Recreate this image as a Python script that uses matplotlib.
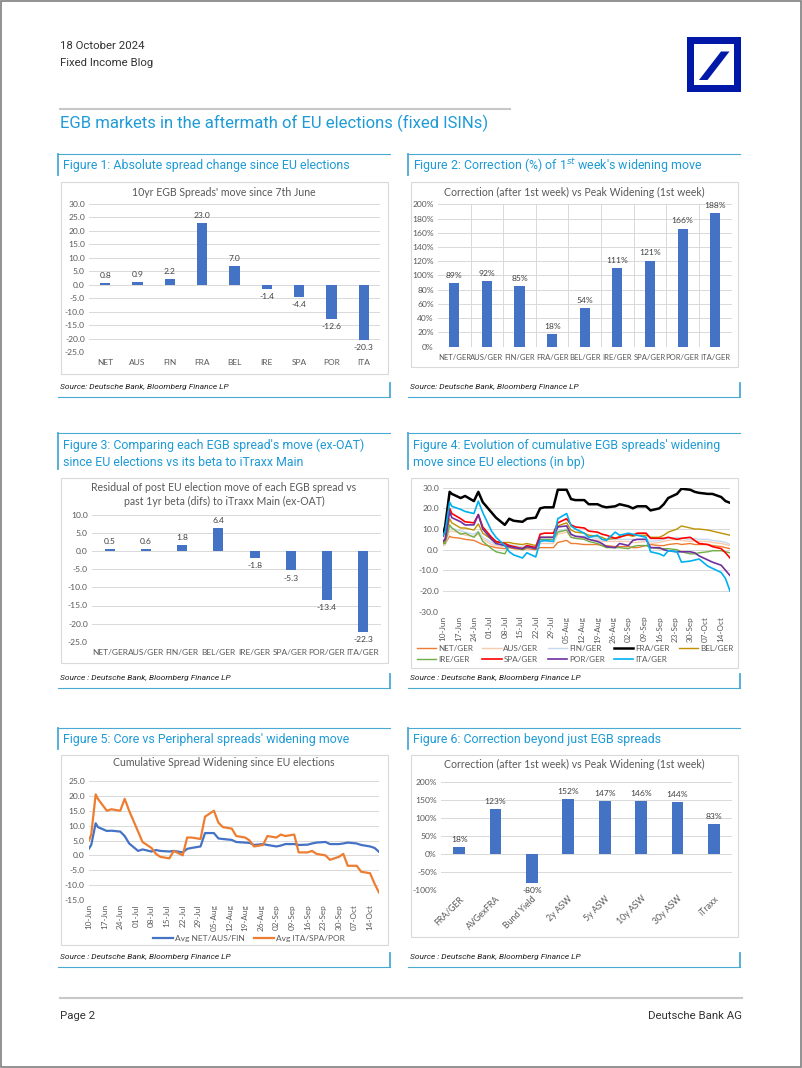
import numpy as np
import pandas as pd
import matplotlib
matplotlib.use('Agg')
import matplotlib.pyplot as plt
from matplotlib.lines import Line2D
from matplotlib.patches import Rectangle, Polygon
from matplotlib.ticker import FuncFormatter

# ---- data ----
fig1_cats = ['NET', 'AUS', 'FIN', 'FRA', 'BEL', 'IRE', 'SPA', 'POR', 'ITA']
fig1_vals = [0.8, 0.9, 2.2, 23.0, 7.0, -1.4, -4.4, -12.6, -20.3]

fig2_cats = ['NET/GER', 'AUS/GER', 'FIN/GER', 'FRA/GER', 'BEL/GER', 'IRE/GER', 'SPA/GER', 'POR/GER', 'ITA/GER']
fig2_vals = [89, 92, 85, 18, 54, 111, 121, 166, 188]

fig3_cats = ['NET/GER', 'AUS/GER', 'FIN/GER', 'BEL/GER', 'IRE/GER', 'SPA/GER', 'POR/GER', 'ITA/GER']
fig3_vals = [0.5, 0.6, 1.8, 6.4, -1.8, -5.3, -13.4, -22.3]

fig6_cats = ['FRA/GER', 'AVGexFRA', 'Bund Yield', '2y ASW', '5y ASW', '10y ASW', '30y ASW', 'iTraxx']
fig6_vals = [18, 123, -80, 152, 147, 146, 144, 83]

bdays = pd.bdate_range('2024-06-10', '2024-10-18')
obs_idx = [0, 1, 3] + list(range(4, 95, 2))
dates = bdays[obs_idx]

net_ger = [2, 3, 6.5, 6, 5.5, 5, 4.5, 3.5, 2.5, 1.5, 1, 0.5, 1, 0.5, 0, 0.5, 0, 1, 1, 1, 3.5, 4.5, 3,
           3, 2.5, 2.5, 2.5, 2, 2, 1.5, 1.5, 1.5, 1, 1, 2, 2.5, 2, 2, 2.5, 3, 2.5, 3, 2.5, 2.5, 2.5, 2, 1.5, 1, 0.5]
aus_ger = [2, 2.5, 9, 9, 8, 7, 6.5, 7.5, 5, 2.5, 2, 1.5, 2, 1.5, 1, 1.5, 1, 3, 3, 3, 7.5, 8.5, 6,
           5.5, 5.5, 5, 4.5, 4, 4, 4, 4, 4, 3.5, 3.5, 4, 3, 3.5, 4, 4.5, 5, 4.5, 4, 4.5, 4, 4, 3.5, 3, 2.5, 2]
fin_ger = [2.5, 3, 11, 10.5, 9, 8.5, 7.5, 9, 6, 3.5, 2.5, 2, 2.5, 2, 1.5, 2, 1.5, 4, 4, 4, 9, 10, 7,
           6.5, 6.5, 6, 5.5, 5, 5, 5, 5, 5, 5, 5, 5, 4, 4.5, 5, 5.5, 6, 5.5, 5, 5.5, 5, 5, 4.5, 4, 3.5, 2.5]
fra_ger = [7, 11.5, 28, 27, 25, 26, 23.5, 28, 23, 18, 15.5, 12, 15, 14, 13.5, 15, 15.5, 20, 20.5, 20.5, 29, 29, 24.5,
           24, 24, 22, 22, 21, 20.5, 21, 22, 21, 20, 21, 21, 19, 20, 22, 25, 27, 29.5, 29, 28, 27.5, 27, 27, 25.5, 23.5, 22.7]
bel_ger = [3, 4, 15, 13, 10.5, 10.5, 9.5, 12.5, 8, 5, 3.5, 3.5, 3.5, 3, 2.5, 3, 2, 6, 6, 6, 11.5, 13, 9.5,
           8.5, 8, 7, 6.5, 6, 5, 5.5, 6.5, 7, 6.5, 7, 7, 6, 6, 7, 8.5, 10, 11.5, 10.5, 10, 10, 9.5, 9, 8, 7.5, 7]
ire_ger = [3, 3, 12, 10.5, 7.5, 8, 6, 8.5, 4, 0.5, -1, -2, 2, 1, 0, 1, 1, 5, 5, 5, 8.5, 9.5, 6,
           5.5, 5, 4, 3, 2, 1, 1, 1, 0.5, 1.5, 2, 2, 1, 0.5, 0.5, 0.5, 0, -1, -2, -2, -1.5, -1, -0.5, -0.5, -1, -1.5]
spa_ger = [4, 5, 20, 17.5, 15, 13.5, 13, 17, 11, 6, 4, 3, 2, 1.5, 0.5, 2, 1, 7.5, 8, 8, 13, 15, 12,
           11, 10.5, 9, 8.5, 7.5, 7, 5.5, 6, 7.5, 7, 8, 8, 5.5, 5.5, 5.5, 6, 5, 5.5, 6, 4.5, 3, 2.5, 1.5, 0.5, -1.5, -4]
por_ger = [4, 5, 18.5, 15.5, 13.5, 12, 12, 17, 10, 5, 3, 2, 1.5, 1, 0.5, 1.5, 0.5, 6, 6, 6, 11, 11.5, 7.5,
           6.5, 6, 5, 4, 3, 1.5, 1, 3, 2, 4.5, 5, 5, 1, 1, 0, -0.5, -1, -1, -1, -1.5, -3, -5, -6, -7.5, -10, -12.5]
ita_ger = [7, 9, 23, 21, 19.5, 18.5, 17.5, 23.5, 18, 9, 6, 2, -1, -2.5, -4, -1.5, -3.5, 4, 4.5, 4, 15, 17.5, 11.5,
           10, 8, 6, 7, 5, 4.5, 8.5, 7, 8, 7.5, 7, 6, -1, -2, -3, -0.5, -1, -6, -5.5, -5, -4.5, -8, -9, -11, -14, -20]

avg_core = [2.3, 3.5, 10.8, 9.5, 8.2, 8.3, 8, 6.5, 4, 1.5, 2, 1.3, 1.8, 1.5, 1.3, 1.5, 1, 2.2, 2.5, 3, 7.5, 7.5, 5.7,
            5.5, 5.2, 4.5, 4.3, 4.2, 3.5, 3.8, 3.5, 3, 3.3, 3.8, 3.8, 3.5, 3.6, 4, 4.3, 4.5, 3.8, 3.8, 4, 4.3, 4, 3.5, 3, 2.5, 1.2]
avg_periph = [5, 7, 20.5, 19, 15, 15.5, 15, 19, 15, 8, 4.5, 2.5, 0.5, -0.5, -1, 1.5, 0, 6, 6, 5.5, 13, 15, 11,
              9.5, 9, 6.5, 6, 5, 3, 3.5, 6.5, 6, 7, 6.5, 7, 1, 1, 1.5, 0.5, 0, -1.5, -0.5, 0.5, -3.5, -3.5, -5.5, -6, -9.5, -12.5]

fig4_series = [('NET/GER', net_ger, '#ED7D31', 1.0), ('AUS/GER', aus_ger, '#F8CBAD', 1.0),
               ('FIN/GER', fin_ger, '#C5D9F1', 1.0), ('FRA/GER', fra_ger, '#000000', 1.8),
               ('BEL/GER', bel_ger, '#BF9000', 1.0), ('IRE/GER', ire_ger, '#70AD47', 1.0),
               ('SPA/GER', spa_ger, '#FF0000', 1.2), ('POR/GER', por_ger, '#7030A0', 1.2),
               ('ITA/GER', ita_ger, '#00B0F0', 1.2)]

# ---- style ----
W, H = 802, 1068
CYAN = '#1E9BD7'
PANEL = '#4AAAD6'
BAR = '#4472C4'
GRID = '#D9D9D9'
TXT = '#595959'
PAGE_FONT = 'Roboto'
plt.rcParams['font.family'] = ['Lato', 'DejaVu Sans']

fig = plt.figure(figsize=(W / 100, H / 100), dpi=100)


def fx(x):
    return x / W


def fy(y):
    return 1 - y / H


def ax_at(x0, y0, x1, y1):
    return fig.add_axes([fx(x0), fy(y1), (x1 - x0) / W, (y1 - y0) / H])


def ftext(x, y, s, **kw):
    fig.text(fx(x), fy(y), s, **kw)


def fline(xs, ys, **kw):
    fig.add_artist(Line2D([fx(x) for x in xs], [fy(y) for y in ys], transform=fig.transFigure, **kw))


def panel(xl, xr, ytop, ybot, caption, box, src):
    fline([xl, xr], [ytop, ytop], color=PANEL, lw=0.8)
    fline([xl, xl], [ytop, ytop + 6 + 15 * len(caption)], color=PANEL, lw=1.3)
    for i, line in enumerate(caption):
        ftext(xl + 5, ytop + 12 + 17 * i, line, color=CYAN, fontsize=8.9, va='center', family=PAGE_FONT)
    fline([xl, xr], [ybot, ybot], color=PANEL, lw=0.8)
    fline([xr, xr], [ybot - 14, ybot], color=PANEL, lw=1.3)
    ftext(xl + 2, ybot - 10, src, fontsize=6.0, style='italic', va='center', color='#222222', family=PAGE_FONT)
    bx0, by0, bx1, by1 = box
    fig.add_artist(Rectangle((fx(bx0), fy(by1)), (bx1 - bx0) / W, (by1 - by0) / H,
                             transform=fig.transFigure, fill=False, ec=GRID, lw=0.8))


def clean(ax, xsize=5.8):
    for s in ax.spines.values():
        s.set_visible(False)
    ax.tick_params(length=0, labelsize=6.1, labelcolor=TXT, pad=3)
    ax.tick_params(axis='x', labelsize=xsize, pad=5)
    ax.set_facecolor('none')


def bars(ax, cats, vals, lo, hi, step, tick_fmt, lab_fmt, width, xsize=5.8):
    x = np.arange(len(cats))
    ax.bar(x, vals, width=width, color=BAR, zorder=2)
    ax.set_xlim(-0.5, len(cats) - 0.5)
    ax.set_ylim(lo, hi)
    ax.set_yticks(np.arange(lo, hi + step / 2, step))
    ax.yaxis.set_major_formatter(FuncFormatter(tick_fmt))
    ax.set_xticks(x)
    ax.set_xticklabels(cats)
    ax.grid(axis='y', color=GRID, lw=0.7, zorder=0)
    clean(ax, xsize)
    for xi, v in zip(x, vals):
        ax.annotate(lab_fmt(v), (xi, v), xytext=(0, 3 if v >= 0 else -3), textcoords='offset points',
                    ha='center', va='bottom' if v >= 0 else 'top', fontsize=6.1, color='#404040')


one_dec = lambda v, p=None: '%.1f' % v
pct = lambda v, p=None: '%d%%' % round(v)

# ---- page furniture ----
fig.add_artist(Rectangle((0.001, 0.001), 0.998, 0.998, transform=fig.transFigure, fill=False, ec='#7F7F7F', lw=1.2))
ftext(60, 46, '18 October 2024', fontsize=8.2, color='#333333', va='center', family=PAGE_FONT)
ftext(60, 63, 'Fixed Income Blog', fontsize=8.2, color='#333333', va='center', family=PAGE_FONT)
fline([60, 510], [109, 109], color='#C8C8C8', lw=1.5)
ftext(60, 123, 'EGB markets in the aftermath of EU elections (fixed ISINs)', fontsize=12, color=CYAN,
      va='center', family=PAGE_FONT)
# Deutsche Bank logo
fig.add_artist(Rectangle((fx(687), fy(92)), 54 / W, 55 / H, transform=fig.transFigure, color='#0018A8', lw=0))
fig.add_artist(Rectangle((fx(694), fy(85)), 40 / W, 41 / H, transform=fig.transFigure, color='white', lw=0))
fig.add_artist(Polygon([(fx(699), fy(80)), (fx(707.5), fy(80)), (fx(729.5), fy(51.5)), (fx(721), fy(51.5))],
                       closed=True, transform=fig.transFigure, color='#0018A8', lw=0))
fline([60, 742], [998, 998], color='#C8C8C8', lw=1.5)
ftext(60, 1016, 'Page 2', fontsize=8.2, color='#333333', va='center', family=PAGE_FONT)
ftext(742, 1016, 'Deutsche Bank AG', fontsize=8.2, color='#333333', va='center', ha='right', family=PAGE_FONT)

SRC1 = 'Source: Deutsche Bank, Bloomberg Finance LP'
SRC2 = 'Source : Deutsche Bank, Bloomberg Finance LP'

# ---- Figure 1 ----
panel(58, 390, 154, 397, ['Figure 1: Absolute spread change since EU elections'], (61, 182, 388, 374), SRC1)
ftext(224, 193, "10yr EGB Spreads' move since 7th June", fontsize=7.6, color=TXT, ha='center', va='center')
ax1 = ax_at(89, 204, 380, 352.3)
bars(ax1, fig1_cats, fig1_vals, -25, 30, 5, one_dec, one_dec, 0.31, xsize=6.0)

# ---- Figure 2 ----
panel(408, 740, 154, 397, ['Figure 2: Correction (%) of 1$^{st}$ week\'s widening move'], (411, 182, 738, 367), SRC1)
ftext(574, 192, 'Correction (after 1st week) vs Peak Widening (1st week)', fontsize=7.6, color=TXT,
      ha='center', va='center')
ax2 = ax_at(438, 204.3, 731.5, 346.7)
bars(ax2, fig2_cats, fig2_vals, 0, 200, 20, pct, pct, 0.31, xsize=5.5)
for xv in np.arange(len(fig2_cats) - 1) + 0.5:
    ax2.axvline(xv, color=GRID, lw=0.7, zorder=0)

# ---- Figure 3 ----
panel(58, 390, 433, 688, ["Figure 3: Comparing each EGB spread's move (ex-OAT)",
                          'since EU elections vs its beta to iTraxx Main'], (61, 478, 388, 663), SRC2)
ftext(224, 487, 'Residual of post EU election move of each EGB spread vs', fontsize=7.6, color=TXT,
      ha='center', va='center')
ftext(224, 501, 'past 1yr beta (difs) to iTraxx Main (ex-OAT)', fontsize=7.6, color=TXT,
      ha='center', va='center')
ax3 = ax_at(92, 515, 381, 641.7)
bars(ax3, fig3_cats, fig3_vals, -25, 10, 5, one_dec, one_dec, 0.28, xsize=6.0)

# ---- Figure 4 ----
panel(408, 740, 433, 688, ["Figure 4: Evolution of cumulative EGB spreads' widening",
                           'move since EU elections (in bp)'], (411, 478, 738, 668), SRC2)
ax4 = ax_at(443, 487.7, 730, 611.7)
handles = {}
for name, vals, col, lw in fig4_series:
    handles[name] = ax4.plot(dates, vals, color=col, lw=lw, label=name, zorder=3)[0]
ax4.set_ylim(-30, 30)
ax4.set_yticks(np.arange(-30, 31, 10))
ax4.yaxis.set_major_formatter(FuncFormatter(one_dec))
week_ticks = pd.date_range('2024-06-10', '2024-10-14', freq='7D')
ax4.set_xlim(dates[0], dates[-1])
ax4.set_xticks(week_ticks)
ax4.set_xticklabels([d.strftime('%d-%b') for d in week_ticks], rotation=90)
ax4.grid(axis='y', color=GRID, lw=0.7, zorder=0)
clean(ax4, 5.9)
ax4.tick_params(axis='x', pad=3)
order = ['NET/GER', 'IRE/GER', 'AUS/GER', 'SPA/GER', 'FIN/GER', 'POR/GER', 'FRA/GER', 'ITA/GER', 'BEL/GER']
ax4.legend([handles[n] for n in order], order, loc='upper center', ncol=5, frameon=False, fontsize=5.9,
           bbox_to_anchor=(fx(575), fy(645)), bbox_transform=fig.transFigure, handlelength=2.4,
           handletextpad=0.2, columnspacing=1.1, labelspacing=0.45, borderaxespad=0, borderpad=0,
           labelcolor=TXT)

# ---- Figure 5 ----
panel(58, 390, 728, 967, ["Figure 5: Core vs Peripheral spreads' widening move"], (61, 755, 388, 945), SRC2)
ftext(224, 763, 'Cumulative Spread Widening since EU elections', fontsize=7.6, color=TXT,
      ha='center', va='center')
ax5 = ax_at(89, 781, 379, 900)
ax5.plot(dates, avg_core, color=BAR, lw=1.6, label='Avg NET/AUS/FIN', zorder=3)
ax5.plot(dates, avg_periph, color='#ED7D31', lw=1.6, label='Avg ITA/SPA/POR', zorder=3)
ax5.set_ylim(-15, 25)
ax5.set_yticks(np.arange(-15, 26, 5))
ax5.yaxis.set_major_formatter(FuncFormatter(one_dec))
ax5.set_xlim(dates[0], dates[-1])
ax5.set_xticks(week_ticks)
ax5.set_xticklabels([d.strftime('%d-%b') for d in week_ticks], rotation=90)
ax5.grid(axis='y', color=GRID, lw=0.7, zorder=0)
clean(ax5, 5.9)
ax5.tick_params(axis='x', pad=3)
ax5.legend(loc='center', ncol=2, frameon=False, fontsize=6.0, bbox_to_anchor=(fx(249), fy(938)),
           bbox_transform=fig.transFigure, handlelength=2.4, handletextpad=0.2, columnspacing=1.2,
           borderaxespad=0, borderpad=0, labelcolor=TXT)

# ---- Figure 6 ----
panel(408, 740, 728, 967, ['Figure 6: Correction beyond just EGB spreads'], (411, 755, 738, 937), SRC2)
ftext(574, 764, 'Correction (after 1st week) vs Peak Widening (1st week)', fontsize=7.6, color=TXT,
      ha='center', va='center')
ax6 = ax_at(441, 781.7, 732, 890)
bars(ax6, fig6_cats, fig6_vals, -100, 200, 50, pct, pct, 0.32, xsize=6.3)
ax6.tick_params(axis='x', pad=3)
for lab in ax6.get_xticklabels():
    lab.set_rotation(45)
    lab.set_ha('right')
    lab.set_rotation_mode('anchor')

fig.savefig('out.png', dpi=100)
